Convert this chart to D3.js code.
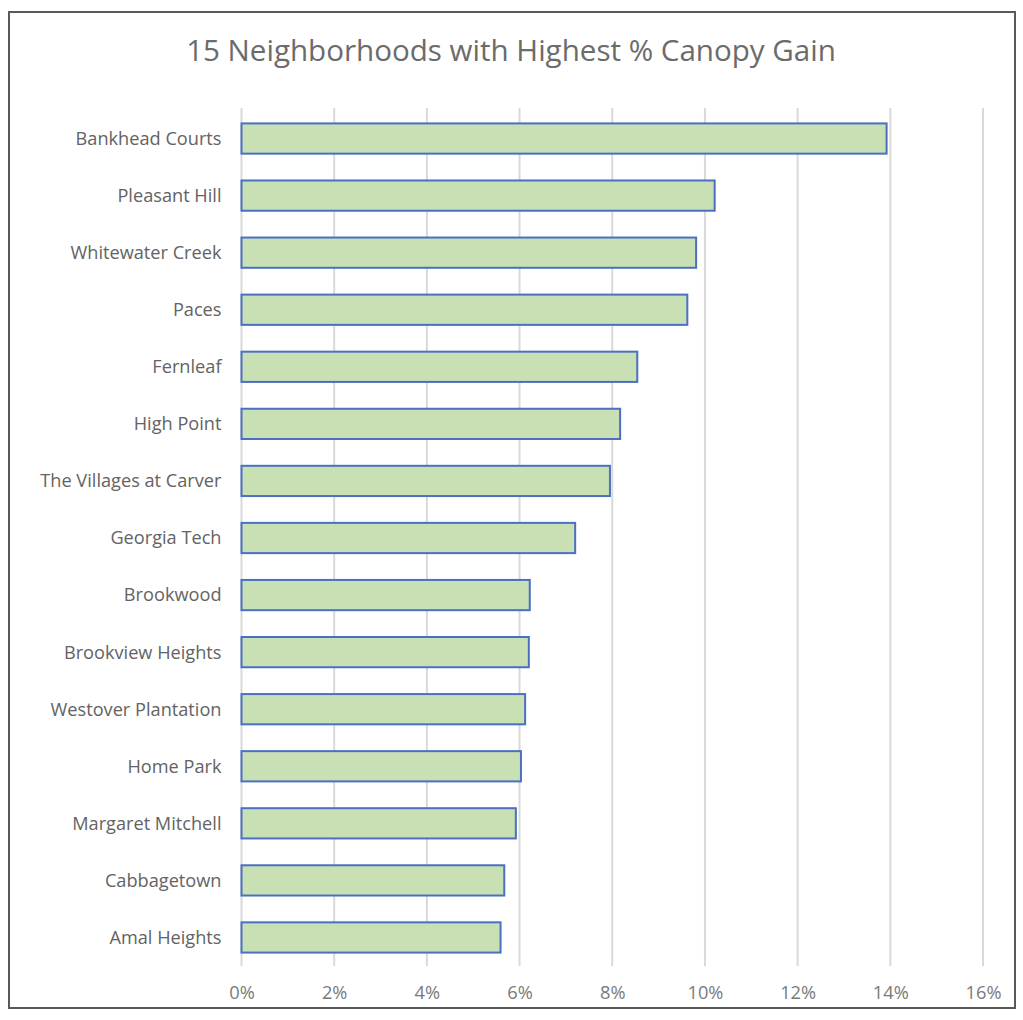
<!DOCTYPE html>
<html>
<head>
<meta charset="utf-8">
<script src="https://cdn.jsdelivr.net/npm/d3@7"></script>
<style>
  body { margin: 0; background: #fff; }
  text { font-family: "Open Sans", sans-serif; }
</style>
</head>
<body>
<svg></svg>
<script>
// data
const neighborhoods = ['Bankhead Courts', 'Pleasant Hill', 'Whitewater Creek', 'Paces', 'Fernleaf',
  'High Point', 'The Villages at Carver', 'Georgia Tech', 'Brookwood', 'Brookview Heights',
  'Westover Plantation', 'Home Park', 'Margaret Mitchell', 'Cabbagetown', 'Amal Heights'];
const canopyGain = [0.1392, 0.1021, 0.0981, 0.0962, 0.0854, 0.0817, 0.0795, 0.0720, 0.0622,
  0.0620, 0.0612, 0.0603, 0.0592, 0.0567, 0.0559];
const xTicks = [0, 0.02, 0.04, 0.06, 0.08, 0.10, 0.12, 0.14, 0.16];

const title = '15 Neighborhoods with Highest % Canopy Gain';

const iWidth = 1023, iHeight = 1020;
const margin = {top: 110, right: 40, bottom: 54, left: 241.5};
const innerWidth = 983 - margin.left;
const innerHeight = iHeight - margin.top - margin.bottom;

const canvas = d3.select('svg')
  .attr('width', iWidth)
  .attr('height', iHeight);

// outer frame
canvas.append('rect')
  .attr('x', 9).attr('y', 12)
  .attr('width', 1006).attr('height', 996)
  .attr('fill', '#fff')
  .attr('stroke', '#595959')
  .attr('stroke-width', 2);

// helper: shrink/grow font so a text fits a measured width
function fitText(sel, targetWidth, startSize) {
  sel.attr('font-size', startSize);
  const w = sel.node().getComputedTextLength();
  const size = startSize * targetWidth / w;
  sel.attr('font-size', size);
  return size;
}

const titleText = canvas.append('text')
  .attr('x', 511).attr('y', 61)
  .attr('text-anchor', 'middle')
  .attr('fill', '#6b6b6b')
  .text(title);
fitText(titleText, 650, 28);

const parentGroup = canvas.append('g')
  .attr('transform', `translate(${margin.left},${margin.top})`);

const xScale = d3.scaleLinear()
  .domain([0, 0.16])
  .range([0, innerWidth]);

const yScale = d3.scaleBand()
  .domain(neighborhoods)
  .range([0, innerHeight])
  .paddingInner(0.47)
  .paddingOuter(0.235);

// gridlines
parentGroup.append('g')
  .selectAll('line')
  .data(xTicks)
  .enter()
  .append('line')
  .attr('x1', d => xScale(d)).attr('x2', d => xScale(d))
  .attr('y1', -2).attr('y2', innerHeight)
  .attr('stroke', '#d9d9d9')
  .attr('stroke-width', 2);

// bars
parentGroup.append('g')
  .selectAll('rect')
  .data(neighborhoods)
  .enter()
  .append('rect')
  .attr('x', 0)
  .attr('y', d => yScale(d))
  .attr('width', (d, i) => xScale(canopyGain[i]))
  .attr('height', yScale.bandwidth())
  .attr('fill', '#c9e0b5')
  .attr('stroke', '#4a6fc3')
  .attr('stroke-width', 2);

// category axis
const yAxis = parentGroup.append('g')
  .call(d3.axisLeft(yScale).tickSize(0).tickPadding(20));
yAxis.select('.domain').remove();
yAxis.selectAll('text')
  .attr('fill', '#636363')
  .style('font-family', '"Open Sans", sans-serif');

// size labels so "Bankhead Courts" matches its width in the reference
const probe = yAxis.selectAll('text').filter(d => d === 'Bankhead Courts');
const labelSize = fitText(probe, 146, 17);
yAxis.selectAll('text').attr('font-size', labelSize).attr('dy', '0.35em');

// value axis
const xAxis = parentGroup.append('g')
  .attr('transform', `translate(0,${innerHeight})`)
  .call(d3.axisBottom(xScale).tickValues(xTicks).tickFormat(d3.format('.0%')).tickSize(0).tickPadding(20));
xAxis.select('.domain').remove();
xAxis.selectAll('text')
  .attr('fill', '#7a7a7a')
  .style('font-family', '"Open Sans", sans-serif');
const probeX = xAxis.selectAll('text').filter(d => d === 0.14);
const tickSize = fitText(probeX, 36, 17);
xAxis.selectAll('text').attr('font-size', tickSize);
</script>
</body>
</html>
